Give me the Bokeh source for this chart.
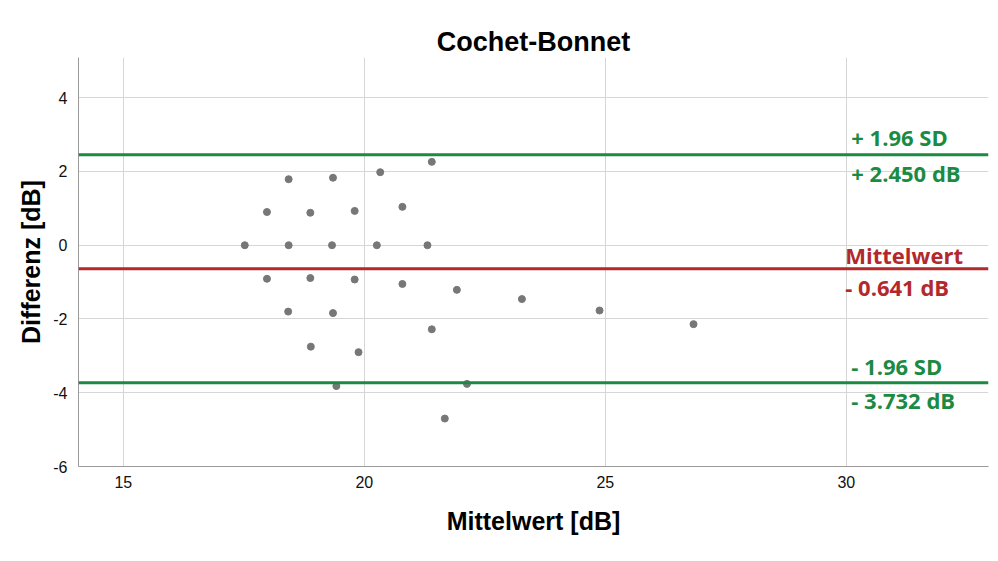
from bokeh.plotting import figure
from bokeh.models import Range1d, FixedTicker, Span, PrintfTickFormatter
from bokeh.core.properties import value
from bokeh.embed import file_html
from bokeh.resources import INLINE

# Data
mittelwert = [18.43, 19.35, 20.33, 21.40,
              17.98, 18.88, 19.80, 20.79,
              17.52, 18.43, 19.33, 20.26, 21.31,
              17.98, 18.88, 19.80, 20.79, 21.92,
              18.42, 19.35, 21.40, 18.89, 19.88, 19.42, 22.13, 21.67,
              23.27, 24.88, 26.83]
differenz = [1.79, 1.83, 1.98, 2.26,
             0.90, 0.88, 0.93, 1.04,
             0.0, 0.0, 0.0, 0.0, 0.0,
             -0.91, -0.89, -0.93, -1.05, -1.21,
             -1.80, -1.84, -2.28, -2.75, -2.90, -3.82, -3.76, -4.70,
             -1.46, -1.77, -2.14]

mean_diff = -0.641
upper_loa = 2.450
lower_loa = -3.732

x_ticks = [15, 20, 25, 30]
y_ticks = [-6, -4, -2, 0, 2, 4]

GREEN = "#1b8a42"
RED = "#b3282b"

p = figure(width=990, height=553, output_backend="svg", toolbar_location=None,
           x_range=Range1d(14.07, 32.95), y_range=Range1d(-6, 5.09),
           min_border_left=78, min_border_right=2, min_border_top=57, min_border_bottom=87)

p.title.text = "Cochet-Bonnet"
p.title.align = "center"
p.title.text_font = "Liberation Sans"
p.title.text_font_size = "27px"
p.title.text_font_style = "bold"
p.title.text_color = "#000000"
p.title.offset = 0
p.title.standoff = 2

p.outline_line_color = None
p.background_fill_color = "white"

for ax in (p.xaxis[0], p.yaxis[0]):
    ax.axis_line_color = "#9a9a9a"
    ax.axis_line_width = 1
    ax.major_tick_line_color = None
    ax.minor_tick_line_color = None
    ax.major_label_text_font = "Liberation Sans"
    ax.major_label_text_font_size = "16px"
    ax.major_label_text_color = "#111111"
    ax.axis_label_text_font = "Liberation Sans"
    ax.axis_label_text_font_size = "25px"
    ax.axis_label_text_font_style = "bold"
    ax.axis_label_text_color = "#000000"
    ax.formatter = PrintfTickFormatter(format="%d")

p.xaxis.ticker = FixedTicker(ticks=x_ticks)
p.yaxis.ticker = FixedTicker(ticks=y_ticks)
p.xaxis.axis_label = "Mittelwert [dB]"
p.yaxis.axis_label = "Differenz [dB]"
p.xaxis.major_label_standoff = 3
p.yaxis.major_label_standoff = 5
p.xaxis.axis_label_standoff = 16
p.yaxis.axis_label_standoff = 5

p.grid.grid_line_color = "#d6d6d6"
p.grid.grid_line_width = 1

p.add_layout(Span(location=upper_loa, dimension="width", line_color=GREEN, line_width=3))
p.add_layout(Span(location=mean_diff, dimension="width", line_color=RED, line_width=3))
p.add_layout(Span(location=lower_loa, dimension="width", line_color=GREEN, line_width=3))

p.scatter(mittelwert, differenz, size=7, fill_color="#777777", line_color="#777777")

font = value("Open Sans")
fs = "22px"
lbl_x = x_ticks[-1]
p.text([lbl_x], [upper_loa], text=["+ 1.96 SD"], x_offset=5, y_offset=-18,
       text_color=GREEN, text_font=font, text_font_style="bold", text_font_size=fs,
       text_baseline="middle", text_align="left")
p.text([lbl_x], [upper_loa], text=["+ %.3f dB" % upper_loa], x_offset=5, y_offset=18,
       text_color=GREEN, text_font=font, text_font_style="bold", text_font_size=fs,
       text_baseline="middle", text_align="left")
p.text([lbl_x], [mean_diff], text=["Mittelwert"], x_offset=-1, y_offset=-14,
       text_color=RED, text_font=font, text_font_style="bold", text_font_size=fs,
       text_baseline="middle", text_align="left")
p.text([lbl_x], [mean_diff], text=["- %.3f dB" % abs(mean_diff)], x_offset=-1, y_offset=18,
       text_color=RED, text_font=font, text_font_style="bold", text_font_size=fs,
       text_baseline="middle", text_align="left")
p.text([lbl_x], [lower_loa], text=["- 1.96 SD"], x_offset=5, y_offset=-17,
       text_color=GREEN, text_font=font, text_font_style="bold", text_font_size=fs,
       text_baseline="middle", text_align="left")
p.text([lbl_x], [lower_loa], text=["- %.3f dB" % abs(lower_loa)], x_offset=5, y_offset=17,
       text_color=GREEN, text_font=font, text_font_style="bold", text_font_size=fs,
       text_baseline="middle", text_align="left")

open("out.html", "w").write(file_html(p, INLINE))
